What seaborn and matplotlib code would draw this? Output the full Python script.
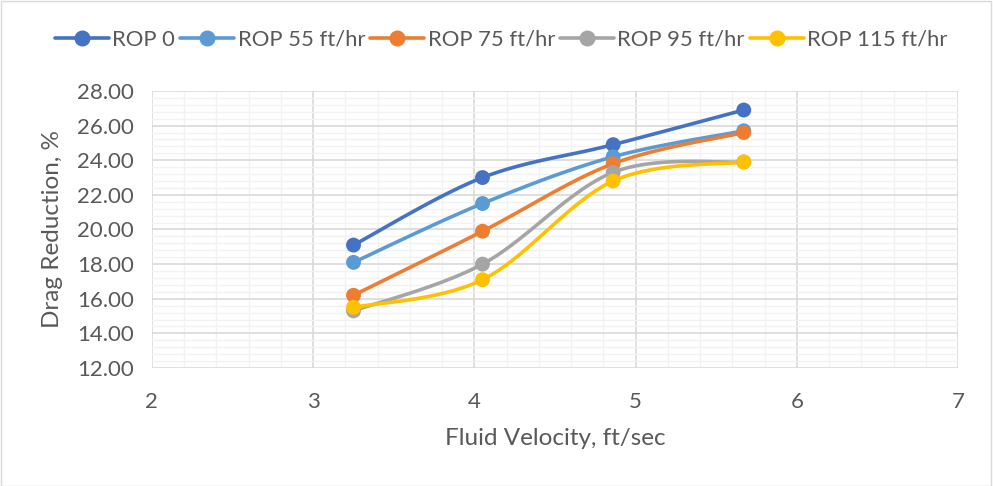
import numpy as np
import pandas as pd
import matplotlib
matplotlib.use("Agg")
import matplotlib.pyplot as plt
from matplotlib.lines import Line2D
from matplotlib.patches import Rectangle
from matplotlib.ticker import MultipleLocator
import seaborn as sns

velocity = [3.25, 4.05, 4.86, 5.67]
series_names = ["ROP 0", "ROP 55 ft/hr", "ROP 75 ft/hr", "ROP 95 ft/hr", "ROP 115 ft/hr"]
rop_0 = [19.1, 23.0, 24.9, 26.9]
rop_55 = [18.1, 21.5, 24.2, 25.7]
rop_75 = [16.2, 19.9, 23.8, 25.6]
rop_95 = [15.3, 18.0, 23.3, 23.9]
rop_115 = [15.5, 17.1, 22.8, 23.9]
colors = ["#4472C4", "#5B9BD5", "#ED7D31", "#A5A5A5", "#FFC000"]

sns.set_style("white")
plt.rcParams["font.family"] = ["Lato", "DejaVu Sans"]


def smooth(x, y, n=40):
    # Excel-like smoothed line: Catmull-Rom Bezier segments
    x = np.asarray(x, float)
    y = np.asarray(y, float)
    P = np.column_stack([x, y])
    out = []
    for i in range(len(P) - 1):
        p0 = P[i - 1] if i > 0 else P[i]
        p1 = P[i]
        p2 = P[i + 1]
        p3 = P[i + 2] if i + 2 < len(P) else P[i + 1]
        c1 = p1 + (p2 - p0) / 6.0
        c2 = p2 - (p3 - p1) / 6.0
        t = np.linspace(0, 1, n)[:, None]
        seg = ((1 - t) ** 3) * p1 + 3 * ((1 - t) ** 2) * t * c1 + 3 * (1 - t) * t ** 2 * c2 + t ** 3 * p2
        out.append(seg if i == 0 else seg[1:])
    s = np.vstack(out)
    return s[:, 0], s[:, 1]


fig = plt.figure(figsize=(9.93, 4.86), dpi=100)
fig.patches.append(Rectangle((0.001, 0.001), 0.997, 0.997, transform=fig.transFigure,
                             fill=False, edgecolor="#d9d9d9", linewidth=1.0))
ax = fig.add_axes([0.153, 0.2428, 0.812, 0.570])

all_series = [rop_0, rop_55, rop_75, rop_95, rop_115]
frames = []
for name, vals in zip(series_names, all_series):
    sx, sy = smooth(velocity, vals)
    frames.append(pd.DataFrame({"x": sx, "y": sy, "series": name, "order": np.arange(len(sx))}))
curve_df = pd.concat(frames, ignore_index=True)
point_df = pd.concat([pd.DataFrame({"x": velocity, "y": v, "series": n})
                      for n, v in zip(series_names, all_series)], ignore_index=True)
palette = dict(zip(series_names, colors))

sns.lineplot(data=curve_df, x="x", y="y", hue="series", palette=palette, sort=False,
             estimator=None, units="series", linewidth=2.6, ax=ax, legend=False, zorder=3)
sns.scatterplot(data=point_df, x="x", y="y", hue="series", palette=palette, s=115,
                edgecolor="none", ax=ax, legend=False, zorder=4)

ax.set_xlim(2, 7)
ax.set_ylim(12, 28)
ax.xaxis.set_major_locator(MultipleLocator(1))
ax.xaxis.set_minor_locator(MultipleLocator(0.2))
ax.yaxis.set_major_locator(MultipleLocator(2))
ax.yaxis.set_minor_locator(MultipleLocator(0.4))
ax.grid(which="minor", color="#f2f2f2", linewidth=1.0, zorder=0)
ax.grid(which="major", color="#d9d9d9", linewidth=1.2, zorder=1)
ax.set_axisbelow(True)
for sp in ax.spines.values():
    sp.set_visible(False)
ax.tick_params(which="both", length=0, labelsize=16, colors="#595959")
ax.tick_params(axis="y", pad=13)
ax.tick_params(axis="x", pad=17)
ax.set_yticks(np.arange(12, 28.01, 2))
ax.set_yticklabels([f"{v:.2f}" for v in np.arange(12, 28.01, 2)])
ax.set_xlabel("Fluid Velocity, ft/sec", fontsize=17.5, color="#595959", labelpad=12)
ax.set_ylabel("Drag Reduction, %", fontsize=17.5, color="#595959", labelpad=10)

handles = [Line2D([0], [0], color=c, linewidth=2.6, marker="o", markersize=10.5) for c in colors]
fig.legend(handles, series_names, loc="center", bbox_to_anchor=(0.505, 0.918), ncol=5,
           frameon=False, fontsize=15.8, labelcolor="#595959", handlelength=2.45,
           handletextpad=0.15, columnspacing=0.25)

fig.savefig("out.png", dpi=100)
